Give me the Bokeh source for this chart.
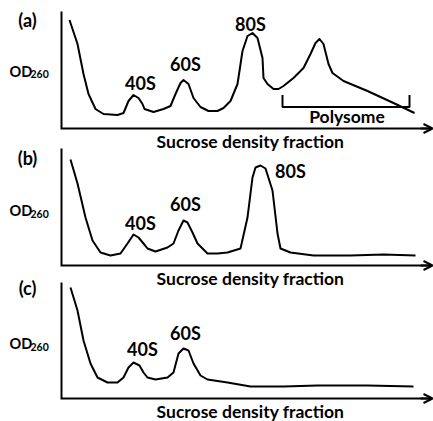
from bokeh.plotting import figure
from bokeh.models import Range1d, Label, Arrow, OpenHead
from bokeh.embed import file_html
from bokeh.resources import INLINE

FONT = "Lato"

# ---- data (arbitrary units: fraction position, OD260) ----
a_x = [8, 16, 22, 27, 34, 42, 56, 62, 67, 72, 77, 81, 83, 92, 102, 109, 114, 119, 122, 127,
       132, 139, 147, 156, 162, 169, 176, 181, 186, 191, 196, 201, 202, 206, 212, 217, 222,
       232, 242, 249, 254, 258, 262, 267, 271, 282, 306, 332, 353]
a_y = [108.5, 84.5, 54.5, 34.5, 19.5, 14.5, 13.5, 15.5, 27.5, 33.5, 30.5, 24.5, 19.5, 16.5,
       19.5, 22.5, 34.5, 45.5, 48.5, 44.5, 30.5, 21.5, 17.5, 17.5, 20.5, 27.5, 44.5, 77.5,
       92.5, 95.5, 90.5, 70.5, 50.5, 44.5, 39.5, 39.5, 42.5, 50.5, 60.5, 74.5, 85.5, 89.5,
       84.5, 64.5, 55.5, 47.5, 37.5, 25.5, 15.5]

b_x = [9, 16, 24, 31, 39, 49, 59, 66, 72, 77, 82, 86, 94, 106, 112, 117, 122, 126, 131, 136,
       146, 156, 166, 179, 186, 191, 194, 199, 204, 211, 216, 219, 229, 252, 289, 322, 354]
b_y = [106, 82, 48, 25, 13, 10, 12, 22, 31, 28, 22, 17, 14, 18, 22, 35, 45, 43, 33, 22,
       12, 12, 13, 17, 48, 88, 98, 100, 97, 75, 32, 17, 13, 10, 10, 11, 10]

c_x = [9, 16, 22, 29, 36, 46, 56, 62, 67, 72, 78, 82, 86, 94, 106, 112, 117, 122, 127, 132,
       139, 146, 166, 189, 222, 256, 306, 352]
c_y = [111, 88, 58, 35, 21, 16, 16, 21, 31, 36, 33, 26, 21, 19, 21, 26, 45, 50, 48, 35,
       23, 19, 16, 12, 12, 13, 13, 12]

peak_names_a = ["40S", "60S", "80S"]
peak_x_a = [79, 124, 189]
peak_y_a = [45.5, 64.5, 104.5]

peak_names_b = ["40S", "60S", "80S"]
peak_x_b = [79, 124, 229]
peak_y_b = [43, 62, 95]

peak_names_c = ["40S", "60S"]
peak_x_c = [81, 124]
peak_y_c = [50, 66]

polysome_x = [221, 348]
polysome_y = [21.5, 33.5]

X_LABEL = "Sucrose density fraction"
X_MAX = 371
LEFT = 61    # room left of the y axes for the panel tags
RIGHT = 1
W, H = 433, 421

# pixel row (from the top) of each panel's x axis
AXIS_ROW = {"a": 128, "b": 265, "c": 398}

p = figure(width=W, height=H, min_border=0, min_border_left=0, min_border_right=0,
           min_border_top=0, min_border_bottom=0,
           x_range=Range1d(-LEFT, X_MAX + RIGHT),
           y_range=Range1d(AXIS_ROW["a"] - H, AXIS_ROW["a"]),
           output_backend="svg", toolbar_location=None)
p.extra_y_ranges = {k: Range1d(r - H, r) for k, r in AXIS_ROW.items()}
p.axis.visible = False
p.grid.visible = False
p.outline_line_color = None
p.background_fill_color = "white"
p.border_fill_color = "white"


def panel(key, xs, ys, tag, tag_y, od_y, names, px, py, axis_top, polysome=False):
    # L-shaped axes with an arrow on the x axis
    p.line([0, 0, X_MAX - 1], [axis_top, 0, 0], line_color="black", line_width=2,
           line_join="miter", y_range_name=key)
    p.add_layout(Arrow(x_start=X_MAX - 12, y_start=0, x_end=X_MAX, y_end=0,
                       line_width=2, line_color="black", y_range_name=key,
                       end=OpenHead(size=9, line_width=2, line_color="black")))

    p.line(xs, ys, line_color="black", line_width=2, line_join="round", y_range_name=key)

    for n, x, y in zip(names, px, py):
        p.add_layout(Label(x=x, y=y, text=n, text_align="center", text_baseline="middle",
                           text_font=FONT, text_font_style="bold", text_font_size="18px",
                           text_color="black", y_range_name=key))

    p.add_layout(Label(x=189, y=-13, text=X_LABEL, text_align="center",
                       text_baseline="middle", text_font=FONT, text_font_style="bold",
                       text_font_size="17.5px", text_color="black", y_range_name=key))

    p.add_layout(Label(x=-34, y=tag_y, text=tag, text_align="center", text_baseline="middle",
                       text_font=FONT, text_font_style="bold", text_font_size="18px",
                       text_color="black", y_range_name=key))
    p.add_layout(Label(x=-52, y=od_y, text="OD", text_align="left", text_baseline="alphabetic",
                       text_font=FONT, text_font_style="bold", text_font_size="14.5px",
                       text_color="black", y_range_name=key))
    p.add_layout(Label(x=-31, y=od_y - 3, text="260", text_align="left",
                       text_baseline="alphabetic", text_font=FONT, text_font_style="bold",
                       text_font_size="10.5px", text_color="black", y_range_name=key))

    if polysome:
        x0, x1 = polysome_x
        y0, y1 = polysome_y
        p.line([x0, x0, x1, x1], [y1, y0, y0, y1], line_color="black", line_width=2,
               y_range_name=key)
        p.add_layout(Label(x=(x0 + x1) / 2 + 1, y=y0 - 9, text="Polysome",
                           text_align="center", text_baseline="middle", text_font=FONT,
                           text_font_style="bold", text_font_size="17.5px", text_color="black",
                           y_range_name=key))


panel("a", a_x, a_y, "(a)", 108.5, 57.5, peak_names_a, peak_x_a, peak_y_a, 117, polysome=True)
panel("b", b_x, b_y, "(b)", 108, 55, peak_names_b, peak_x_b, peak_y_b, 117)
panel("c", c_x, c_y, "(c)", 110.5, 55, peak_names_c, peak_x_c, peak_y_c, 116)

open("out.html", "w").write(file_html(p, INLINE))
